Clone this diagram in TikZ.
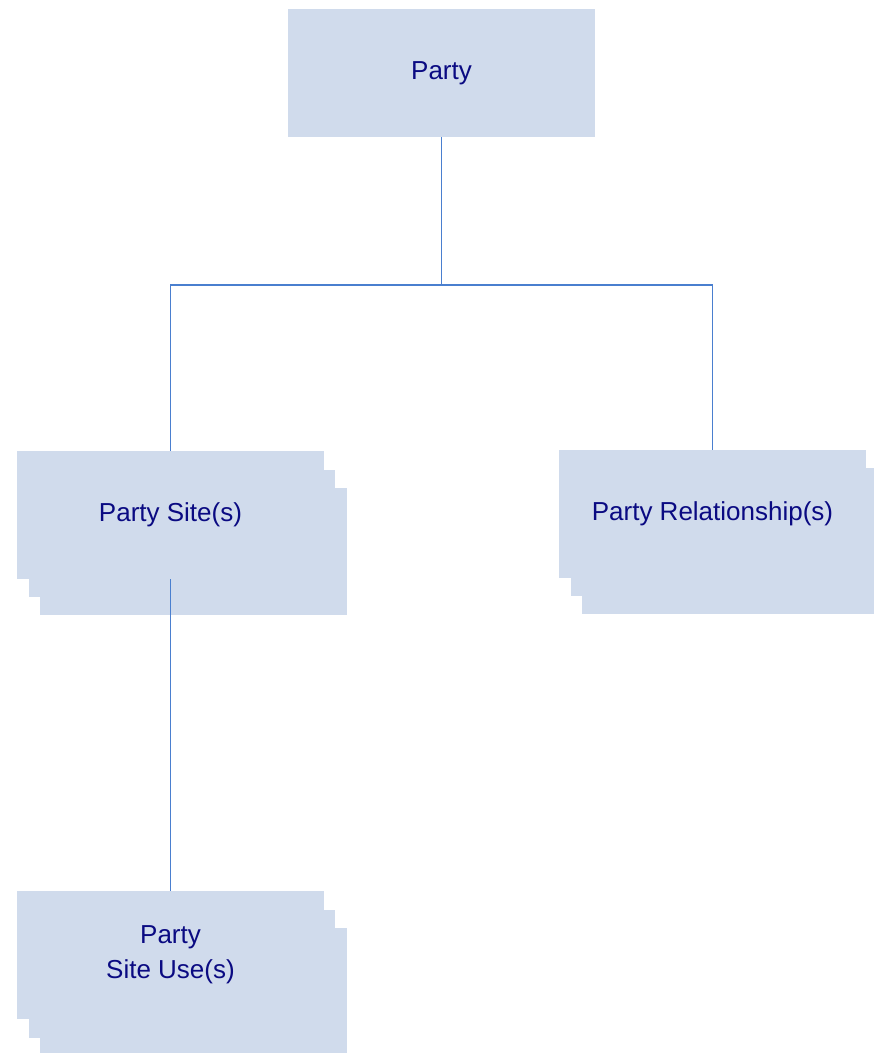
\documentclass[tikz,border=0pt]{standalone}
\usepackage{fontspec}
\setmainfont{Liberation Sans}

\definecolor{boxfill}{RGB}{208,219,236}
\definecolor{linkblue}{RGB}{74,127,207}
\definecolor{labelblue}{RGB}{10,10,130}

\begin{document}
\begin{tikzpicture}[x=0.02cm, y=-0.02cm,
                    entity/.style={rectangle, fill=boxfill, minimum width=6.14cm, minimum height=2.56cm,
                                   inner sep=0pt, text=labelblue, align=center,
                                   font=\fontsize{14.8}{20}\selectfont},
                    link/.style={draw=linkblue, line width=0.6pt}]

  \useasboundingbox (0,0) rectangle (873,1053);

  % top entity
  \node[entity] (party) at (441.5,73) {Party};

  % party sites, stacked
  \node[entity] (site3) at (193.5,551.5) {};
  \node[entity] (site2) at (182,533.5) {};
  \node[entity] (site) at (170.5,515) {Party Site(s)};

  % party relationships, stacked
  \node[entity] (rel3) at (735.5,550) {};
  \node[entity] (rel2) at (724,532) {};
  \node[entity] (rel) at (712.5,514) {Party Relationship(s)};

  % party site uses, stacked
  \node[entity] (use3) at (193.5,991.5) {};
  \node[entity] (use2) at (182,973.5) {};
  \node[entity] (use) at (170.5,955) {Party\\Site Use(s)};

  \coordinate (fork) at (441.5,285);

  \path[link]
    (party) -- (fork) -| (site)
    (fork) -| (rel)
    (site) -- (use);
\end{tikzpicture}
\end{document}
